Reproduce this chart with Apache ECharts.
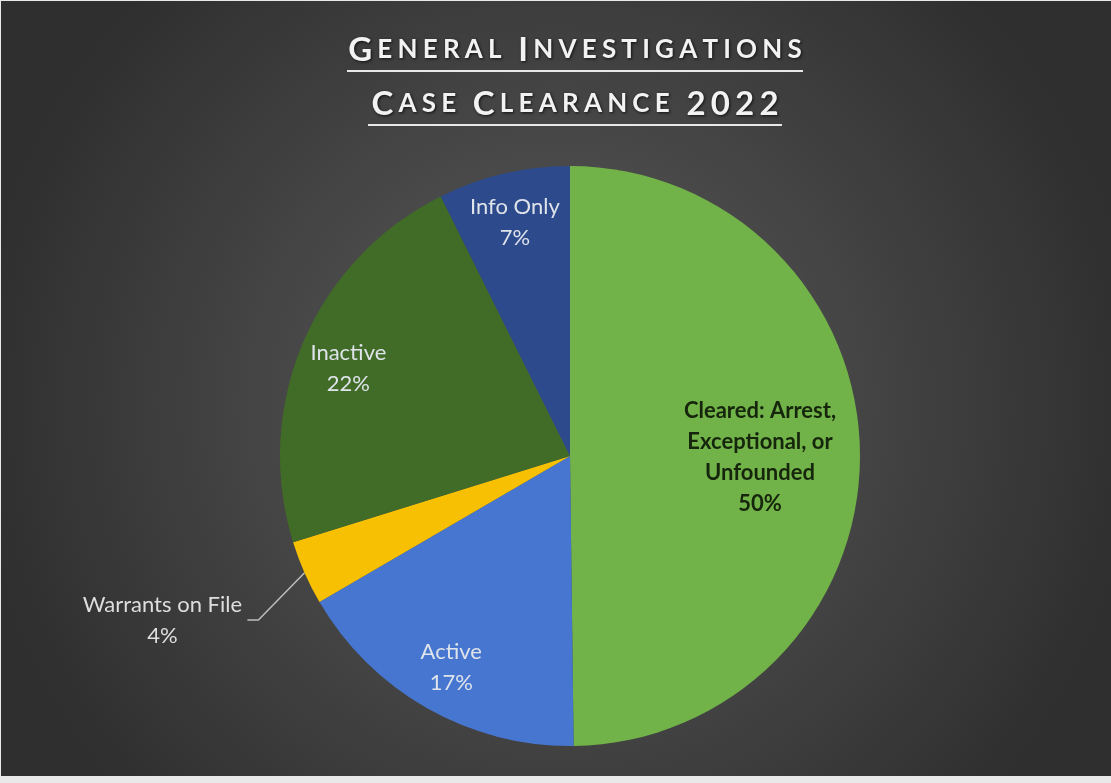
<!DOCTYPE html>
<html>
<head>
<meta charset="utf-8">
<script src="https://cdn.jsdelivr.net/npm/echarts@6/dist/echarts.min.js"></script>
<style>
html,body{margin:0;padding:0;background:#e9e9e9;}
#chart{position:absolute;left:1px;top:1px;width:1110px;height:775px;}
</style>
</head>
<body>
<div id="chart"></div>
<script>
// ---- data ----
const categories = ['Cleared: Arrest,\nExceptional, or\nUnfounded', 'Active', 'Warrants on File', 'Inactive', 'Info Only'];
const values = [49.8, 16.8, 3.6, 22.45, 7.35];
const colors = ['#72b349', '#4676d0', '#f7c002', '#416c27', '#2c4a8c'];
const titleLines = ['General Investigations', 'Case Clearance 2022'];

const FONT = 'Lato';
const R = 290;
const CENTER = [569, 455];
const pct = p => Math.round(p.percent) + '%';

// small caps: first letter of each word and digits full size, other letters small
function smallCaps(line) {
  return line.split(' ').map(w => w.split('').map((ch, i) => {
    const big = i === 0 || /[0-9]/.test(ch);
    return '{' + (big ? 'b' : 's') + '|' + ch.toUpperCase() + '}';
  }).join('')).join('{s| }');
}

const mainData = categories.map((c, i) => {
  const item = { name: c, value: values[i], itemStyle: { color: colors[i] }, label: { show: false }, labelLine: { show: false } };
  if (c === 'Warrants on File') {
    item.label = { show: true };
    item.labelLine = { show: true };
  }
  return item;
});
const ringData = categories.map((c, i) => ({
  name: c, value: values[i],
  label: { show: ['Active', 'Inactive', 'Info Only'].includes(c) }
}));
const centerData = categories.map((c, i) => ({
  name: c, value: values[i],
  label: { show: i === 0 }
}));

// small vertical nudges of label blocks (pixels)
const labelNudge = { 'Inactive': 7, 'Active': 2, 'Info Only': 1 };
const shiftY = (p, d) => ({ y: p.labelRect.y + p.labelRect.height / 2 + d, verticalAlign: 'middle' });

const transparent = { color: 'rgba(0,0,0,0)', borderWidth: 0 };
const PAD = [0, 2.6, 0, 2.6];
const shadow = { textShadowColor: 'rgba(0,0,0,0.75)', textShadowBlur: 3, textShadowOffsetX: 1, textShadowOffsetY: 1 };

const chart = echarts.init(document.getElementById('chart'), null, { renderer: 'canvas' });
chart.setOption({
  backgroundColor: {
    type: 'radial', x: 0.5, y: 0.52, r: 0.75,
    colorStops: [{ offset: 0, color: '#5c5c5c' }, { offset: 1, color: '#2f2f2f' }]
  },
  animation: false,
  title: {
    left: CENTER[0], top: 26, textAlign: 'center',
    text: smallCaps(titleLines[0]) + '\n{u1|}\n{sp|}\n' + smallCaps(titleLines[1]) + '\n{u2|}',
    textStyle: {
      rich: {
        b: Object.assign({ fontFamily: FONT, fontWeight: 'bold', fontSize: 33, color: '#f2f2f2', lineHeight: 36, padding: PAD }, shadow),
        s: Object.assign({ fontFamily: FONT, fontWeight: 'bold', fontSize: 26, color: '#f2f2f2', lineHeight: 36, padding: PAD }, shadow),
        u1: { width: 456, height: 2, lineHeight: 6, backgroundColor: '#e8e8e8' },
        u2: { width: 414, height: 2, lineHeight: 6, backgroundColor: '#e8e8e8' },
        sp: { lineHeight: 12, height: 12 }
      }
    }
  },
  series: [
    {
      type: 'pie', center: CENTER, radius: R, startAngle: 90, clockwise: true,
      avoidLabelOverlap: false, silent: true,
      itemStyle: { borderWidth: 0 },
      data: mainData,
      label: {
        position: 'outside', alignTo: 'none',
        formatter: p => '{a|' + p.name + '}\n{a|' + pct(p) + '}',
        rich: { a: { fontFamily: FONT, fontSize: 22, color: '#dedede', width: 170, align: 'center', lineHeight: 31 } }
      },
      labelLine: { length: 45, length2: 11, smooth: false, lineStyle: { color: '#bdbdbd', width: 1.5 } },
      labelLayout: p => p.dataIndex === 2 ? shiftY(p, 29) : {}
    },
    {
      type: 'pie', center: CENTER, radius: [186, R], startAngle: 90, clockwise: true,
      avoidLabelOverlap: false, silent: true, itemStyle: transparent,
      emphasis: { disabled: true },
      data: ringData,
      label: {
        position: 'inside',
        formatter: p => p.name + '\n' + pct(p),
        fontFamily: FONT, fontSize: 22, color: '#dfe3ea', lineHeight: 31
      },
      labelLine: { show: false },
      labelLayout: p => labelNudge[categories[p.dataIndex]] ? shiftY(p, labelNudge[categories[p.dataIndex]]) : {}
    },
    {
      type: 'pie', center: CENTER, radius: [84, R], startAngle: 90, clockwise: true,
      avoidLabelOverlap: false, silent: true, itemStyle: transparent,
      emphasis: { disabled: true },
      data: centerData,
      label: {
        position: 'inside',
        formatter: p => p.name + '\n' + pct(p),
        fontFamily: FONT, fontSize: 22, fontWeight: 'bold', color: '#15260c', lineHeight: 31
      },
      labelLine: { show: false },
      labelLayout: p => p.dataIndex === 0 ? shiftY(p, 3) : {}
    }
  ]
});
</script>
</body>
</html>
